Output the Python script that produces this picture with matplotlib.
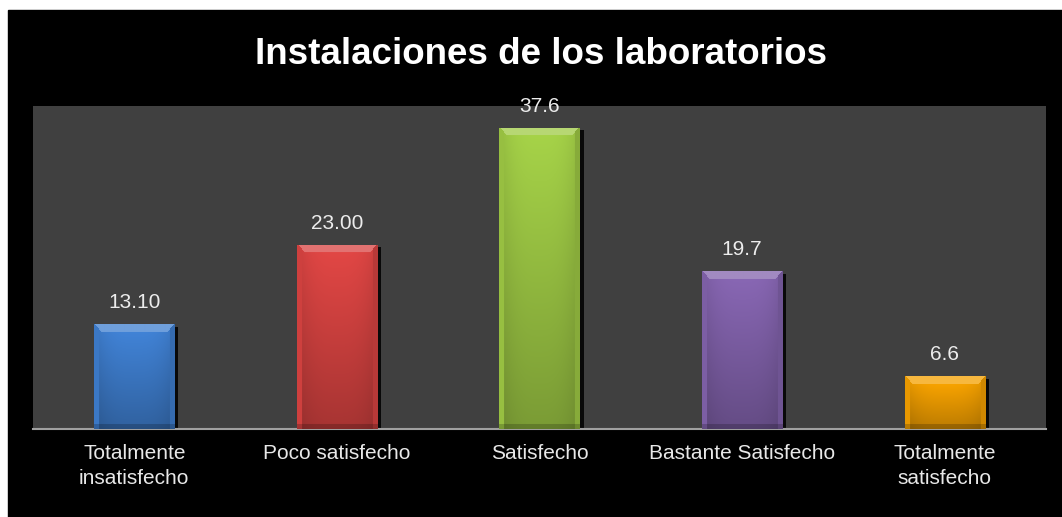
import numpy as np
import matplotlib
matplotlib.use("Agg")
import matplotlib.pyplot as plt
from matplotlib import patheffects as pe
from matplotlib.colors import to_rgb

categories = ["Totalmente\ninsatisfecho", "Poco satisfecho", "Satisfecho",
              "Bastante Satisfecho", "Totalmente\nsatisfecho"]
values = [13.10, 23.00, 37.6, 19.7, 6.6]
value_labels = ["13.10", "23.00", "37.6", "19.7", "6.6"]
colors = ["#3f7fd0", "#d94442", "#9fca45", "#8363ad", "#f5a100"]
title = "Instalaciones de los laboratorios"

plt.rcParams['font.family'] = ['Liberation Sans', 'DejaVu Sans']

fig = plt.figure(figsize=(10.62, 5.17), dpi=100)
fig.patch.set_facecolor("white")
fig.patches.append(plt.Rectangle((8/1062, 0), 1 - 8/1062, 1 - 10/517,
                                 transform=fig.transFigure, color="black", zorder=0))

ax = fig.add_axes([33/1062, 1 - 429/517, (1046 - 33)/1062, (429 - 106)/517])
ax.set_facecolor("#404040")
ax.set_zorder(1)
x = np.arange(len(values))
bars = ax.bar(x, values, width=0.395, color=colors, zorder=2, linewidth=0)
ax.set_xlim(-0.5, len(values) - 0.5)
ax.set_ylim(0, 40.3)

ppu_y = 323 / 40.3
ppu_x = 1013 / 5

for b, c in zip(bars, colors):
    b.set_path_effects([pe.SimplePatchShadow(offset=(3, -2), shadow_rgbFace="black", alpha=0.85), pe.Normal()])
    base = np.array(to_rgb(c))
    w = b.get_width(); h = b.get_height(); x0 = b.get_x()
    W = int(round(w * ppu_x)); H = int(round(h * ppu_y))
    yy, xx = np.mgrid[0:H, 0:W]
    fy = 1.05 - 0.28 * (yy / max(H - 1, 1))
    u = xx / max(W - 1, 1)
    fx = 1 - 0.12 * np.abs(2 * u - 1) ** 3
    f = fy * fx
    img = np.clip(base[None, None, :] * f[..., None], 0, 1)
    bev = 8
    top = (yy < bev) & (xx >= yy) & (xx <= W - 1 - yy)
    img[top] = np.clip(base * 0.75 + 0.25, 0, 1)
    left = (xx < 5) & (yy >= xx)
    right = (xx > W - 6) & (yy >= (W - 1 - xx))
    img[left] = np.clip(base * 0.95, 0, 1)
    img[right] = np.clip(base * 0.85, 0, 1)
    bottom = yy > H - 6
    img[bottom] = img[bottom] * 0.8
    im = ax.imshow(img, extent=(x0, x0 + w, 0, h), aspect="auto", zorder=3,
                   interpolation="bilinear")
    im.set_clip_path(b)

ax.set_xlim(-0.5, len(values) - 0.5)
ax.set_ylim(0, 40.3)

for xi, v, lab in zip(x, values, value_labels):
    ax.annotate(lab, (xi, v), xytext=(0, 11.5), textcoords="offset points",
                ha="center", va="baseline", color="#ececec", fontsize=15, zorder=5,
                annotation_clip=False)

ax.set_xticks(x)
ax.set_xticklabels(categories, color="#e8e8e8", fontsize=15, linespacing=1.4)
ax.tick_params(axis="x", length=0, pad=10.5)
ax.set_yticks([])
for s in ["top", "right", "left"]:
    ax.spines[s].set_visible(False)
ax.spines["bottom"].set_color("#a0a0a0")
ax.spines["bottom"].set_linewidth(1.5)

fig.text(541 / 1062, 1 - 55 / 517, title, ha="center", va="center",
         color="white", fontsize=26.5, fontweight="bold")

fig.savefig("out.png", dpi=100, facecolor=fig.get_facecolor())
